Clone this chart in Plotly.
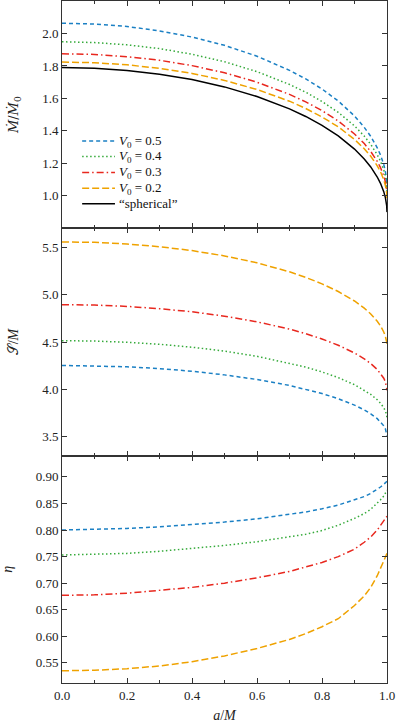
import plotly.graph_objects as go
from plotly.subplots import make_subplots

# spin parameter a/M
a_over_M = [0, 0.1, 0.2, 0.3, 0.4, 0.5, 0.6, 0.7, 0.75, 0.8, 0.85, 0.9, 0.93, 0.95,
            0.97, 0.98, 0.99, 0.995, 0.999, 1.0]

series_names = ["<i>V</i><sub>0</sub> = 0.5", "<i>V</i><sub>0</sub> = 0.4",
                "<i>V</i><sub>0</sub> = 0.3", "<i>V</i><sub>0</sub> = 0.2"]
spherical_name = "\u201cspherical\u201d"

# Mdot / Mdot_0
mdot_v05 = [2.063, 2.058, 2.043, 2.016, 1.978, 1.927, 1.860, 1.773, 1.720, 1.658, 1.584, 1.492,
            1.422, 1.366, 1.296, 1.252, 1.193, 1.151, 1.095, 1.050]
mdot_v04 = [1.949, 1.944, 1.930, 1.907, 1.872, 1.826, 1.765, 1.686, 1.638, 1.581, 1.514, 1.431,
            1.368, 1.317, 1.253, 1.213, 1.160, 1.122, 1.071, 1.030]
mdot_v03 = [1.875, 1.871, 1.857, 1.835, 1.802, 1.758, 1.700, 1.625, 1.579, 1.525, 1.461, 1.381,
            1.322, 1.273, 1.213, 1.174, 1.123, 1.087, 1.039, 1.000]
mdot_v02 = [1.824, 1.820, 1.807, 1.785, 1.754, 1.711, 1.655, 1.583, 1.538, 1.486, 1.425, 1.348,
            1.290, 1.244, 1.185, 1.148, 1.099, 1.064, 1.018, 0.980]
mdot_sph = [1.790, 1.786, 1.772, 1.749, 1.716, 1.671, 1.612, 1.536, 1.489, 1.434, 1.369, 1.288,
            1.227, 1.178, 1.116, 1.077, 1.026, 0.989, 0.940, 0.900]

# S / M
s_v05 = [4.253, 4.249, 4.238, 4.219, 4.191, 4.153, 4.104, 4.041, 4.001, 3.956, 3.901, 3.834,
         3.783, 3.742, 3.691, 3.658, 3.615, 3.584, 3.543, 3.510]
s_v04 = [4.514, 4.510, 4.497, 4.476, 4.445, 4.404, 4.349, 4.278, 4.235, 4.184, 4.124, 4.049,
         3.993, 3.947, 3.890, 3.854, 3.806, 3.772, 3.727, 3.690]
s_v03 = [4.894, 4.890, 4.876, 4.852, 4.819, 4.773, 4.713, 4.636, 4.588, 4.532, 4.466, 4.384,
         4.322, 4.272, 4.210, 4.170, 4.118, 4.080, 4.030, 3.990]
s_v02 = [5.557, 5.552, 5.535, 5.506, 5.465, 5.409, 5.336, 5.241, 5.182, 5.114, 5.033, 4.933,
         4.857, 4.796, 4.719, 4.670, 4.606, 4.561, 4.500, 4.450]

# eta
eta_v05 = [0.800, 0.801, 0.803, 0.806, 0.810, 0.815, 0.821, 0.829, 0.834, 0.840, 0.847, 0.857,
           0.863, 0.869, 0.876, 0.881, 0.886, 0.889, 0.891, 0.892]
eta_v04 = [0.753, 0.754, 0.756, 0.760, 0.765, 0.771, 0.778, 0.787, 0.792, 0.799, 0.809, 0.822,
           0.831, 0.839, 0.850, 0.857, 0.864, 0.869, 0.873, 0.875]
eta_v03 = [0.677, 0.678, 0.681, 0.686, 0.692, 0.700, 0.710, 0.722, 0.730, 0.739, 0.750, 0.764,
           0.777, 0.787, 0.800, 0.808, 0.816, 0.820, 0.824, 0.826]
eta_v02 = [0.535, 0.536, 0.539, 0.544, 0.552, 0.563, 0.577, 0.594, 0.605, 0.618, 0.633, 0.658,
           0.676, 0.692, 0.714, 0.727, 0.741, 0.748, 0.754, 0.756]

x_ticks = [0.0, 0.2, 0.4, 0.6, 0.8, 1.0]
x_ticklabels = ["0.0", "0.2", "0.4", "0.6", "0.8", "1.0"]

colors = ["#1b80c4", "#35aa3a", "#e8281f", "#efa200", "#000000"]
dashes = ["4px,3px", "1.5px,2.5px", "7px,3px,1.5px,3px", "7px,3px", "solid"]
legend_names = series_names + [spherical_name]

FONT = "Liberation Serif"

fig = make_subplots(rows=3, cols=1, shared_xaxes=True, vertical_spacing=0)

panels = [
    (1, [mdot_v05, mdot_v04, mdot_v03, mdot_v02, mdot_sph]),
    (2, [s_v05, s_v04, s_v03, s_v02]),
    (3, [eta_v05, eta_v04, eta_v03, eta_v02]),
]
for row, ys in panels:
    for i, y in enumerate(ys):
        fig.add_trace(go.Scatter(
            x=a_over_M, y=y, mode="lines", name=legend_names[i],
            line=dict(color=colors[i], width=1.5, dash=dashes[i]),
            showlegend=False,
        ), row=row, col=1)

# compact legend drawn inside the top panel (matches reference spacing)
leg_x0, leg_x1, leg_xt = 0.062, 0.163, 0.169
leg_rows = [0.384, 0.316, 0.246, 0.176, 0.108]
for i, name in enumerate(legend_names):
    fig.add_shape(type="line", xref="x domain", yref="y domain",
                  x0=leg_x0, x1=leg_x1, y0=leg_rows[i], y1=leg_rows[i],
                  line=dict(color=colors[i], width=1.5, dash=dashes[i]))
    fig.add_annotation(xref="x domain", yref="y domain", x=leg_xt, y=leg_rows[i],
                       text=name, showarrow=False, xanchor="left", yanchor="middle",
                       font=dict(family=FONT, size=13, color="#111111"))

axis_common = dict(
    showline=True, linecolor="#333333", linewidth=1, mirror="ticks",
    ticks="inside", ticklen=5, tickwidth=1, tickcolor="#333333",
    showgrid=False, zeroline=False,
    tickfont=dict(family=FONT, size=13, color="#222222"),
)

for r in (1, 2, 3):
    fig.update_xaxes(
        range=[0, 1], tickvals=x_ticks, ticktext=x_ticklabels,
        showticklabels=(r == 3),
        minor=dict(ticks="inside", ticklen=3, tickcolor="#333333", dtick=0.1, showgrid=False),
        row=r, col=1, **axis_common)

fig.update_xaxes(title=dict(text="<i>a</i>/<i>M</i>", font=dict(family=FONT, size=14),
                            standoff=8), row=3, col=1)

fig.update_yaxes(range=[0.80, 2.20], tickvals=[1.0, 1.2, 1.4, 1.6, 1.8, 2.0],
                 ticktext=["1.0", "1.2", "1.4", "1.6", "1.8", "2.0"],
                 title=dict(text="<i>\u1e40</i>/<i>\u1e40</i><sub>0</sub>",
                            font=dict(family="DejaVu Serif", size=13), standoff=20),
                 row=1, col=1, **axis_common)
fig.update_yaxes(range=[3.30, 5.70], tickvals=[3.5, 4.0, 4.5, 5.0, 5.5],
                 ticktext=["3.5", "4.0", "4.5", "5.0", "5.5"],
                 title=dict(text="\U0001D4AE/<i>M</i>", font=dict(family=FONT, size=14), standoff=20),
                 row=2, col=1, **axis_common)
fig.update_yaxes(range=[0.512, 0.940],
                 tickvals=[0.55, 0.60, 0.65, 0.70, 0.75, 0.80, 0.85, 0.90],
                 ticktext=["0.55", "0.60", "0.65", "0.70", "0.75", "0.80", "0.85", "0.90"],
                 title=dict(text="<i>\u03b7</i>", font=dict(family=FONT, size=14), standoff=19),
                 row=3, col=1, **axis_common)

fig.update_layout(
    width=397, height=724,
    margin=dict(l=62, r=10, t=1, b=41),
    paper_bgcolor="white", plot_bgcolor="white",
    font=dict(family=FONT, size=13, color="#222222"),
    showlegend=False,
)

fig.write_html("out.html", config={"displayModeBar": False},
               post_script="document.body.style.margin='0';document.body.style.overflow='hidden';")
